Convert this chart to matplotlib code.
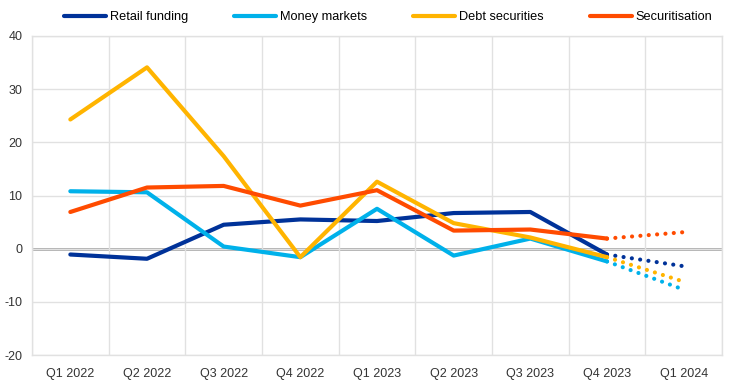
import numpy as np
import matplotlib
matplotlib.use('Agg')
import matplotlib.pyplot as plt

quarters = ['Q1 2022', 'Q2 2022', 'Q3 2022', 'Q4 2022', 'Q1 2023',
            'Q2 2023', 'Q3 2023', 'Q4 2023', 'Q1 2024']

# observed values up to Q4 2023, last point is the expectation (dotted)
retail_funding = [-1.1, -1.9, 4.5, 5.5, 5.2, 6.7, 6.9, -1.1, -3.3]
money_markets = [10.8, 10.6, 0.4, -1.6, 7.5, -1.3, 1.9, -2.4, -7.7]
debt_securities = [24.3, 34.1, 17.4, -1.6, 12.6, 4.8, 2.1, -1.6, -6.2]
securitisation = [6.9, 11.5, 11.8, 8.1, 11.0, 3.4, 3.6, 1.9, 3.1]

series = [
    ('Retail funding', retail_funding, '#003299'),
    ('Money markets', money_markets, '#00B1EA'),
    ('Debt securities', debt_securities, '#FFB400'),
    ('Securitisation', securitisation, '#FF4B00'),
]

plt.rcParams['font.family'] = ['Liberation Sans', 'DejaVu Sans']
plt.rcParams['axes.unicode_minus'] = False

fig = plt.figure(figsize=(7.41, 3.84), dpi=100)
ax = fig.add_axes([32 / 741, 1 - 355 / 384, 690 / 741, 319 / 384])

x = np.arange(len(quarters))
n_obs = 8
for name, vals, col in series:
    ax.plot(x[:n_obs], vals[:n_obs], color=col, lw=3.0, label=name,
            solid_capstyle='round', solid_joinstyle='round', zorder=3)
    ax.plot(x[n_obs - 1:], vals[n_obs - 1:], color=col, lw=3.0,
            linestyle=(0, (0.01, 2.0)), dash_capstyle='round', zorder=3)

ax.set_xlim(-0.5, len(quarters) - 0.5)
ax.set_ylim(-20, 40)
ax.set_yticks(np.arange(-20, 41, 10))
ax.set_xticks(x)
ax.set_xticklabels(quarters)
ax.set_xticks(np.arange(-0.5, len(quarters), 1), minor=True)
ax.tick_params(which='both', length=0, labelsize=9, colors='#333333')
ax.tick_params(axis='x', pad=9)
ax.tick_params(axis='y', pad=7)

ax.grid(axis='y', color='#e1e1e1', lw=1, zorder=0)
ax.grid(axis='x', which='minor', color='#e1e1e1', lw=1, zorder=0)
ax.axhline(0, color='#a6a6a6', lw=2, zorder=1)
for s in ax.spines.values():
    s.set_color('#e1e1e1')
    s.set_linewidth(1)

ax.legend(loc='center left', bbox_to_anchor=(0.046, 1.0596), ncol=4, frameon=False,
          fontsize=9.2, handlelength=3.3, handletextpad=0.3, columnspacing=3.6,
          borderpad=0, borderaxespad=0)

fig.savefig('out.png', dpi=100)
